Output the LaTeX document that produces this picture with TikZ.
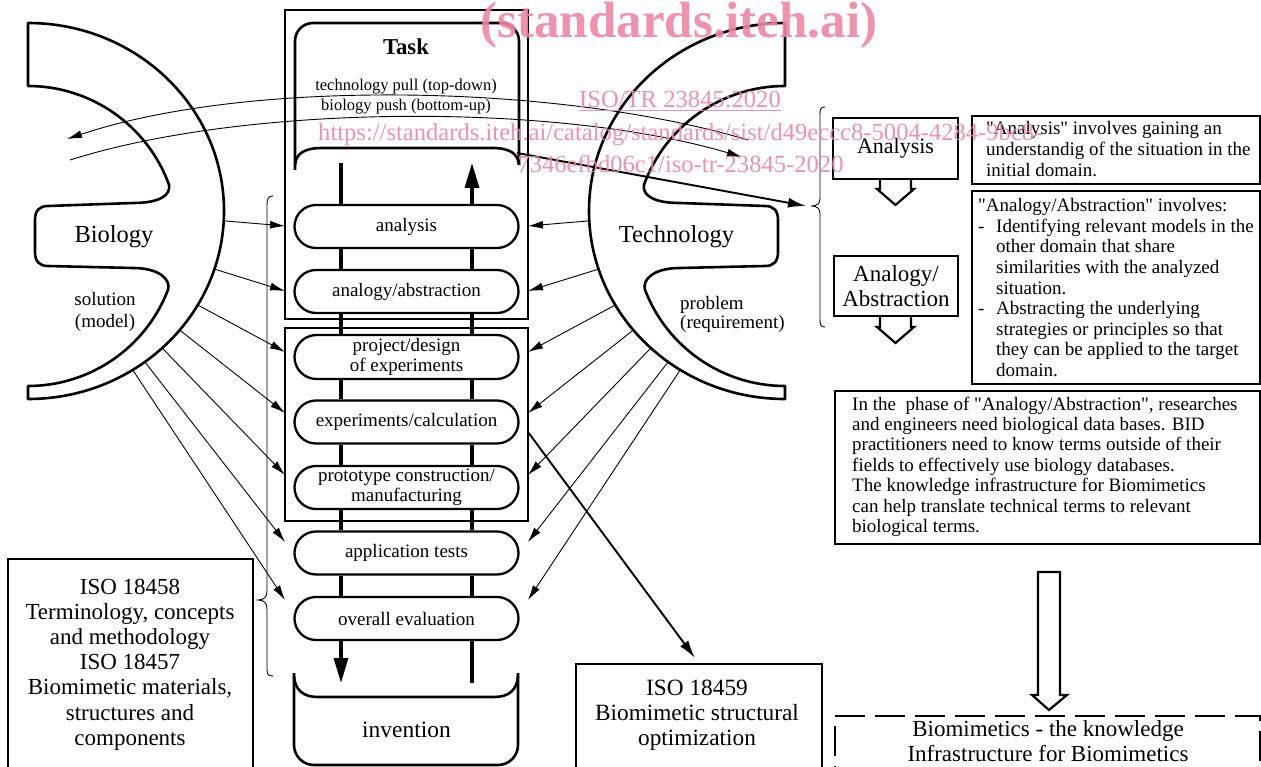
\documentclass[tikz,border=0pt]{standalone}
\usepackage{fontspec}
\setmainfont{Liberation Serif}[Ligatures=TeXOff]
\usetikzlibrary{arrows.meta,shapes.misc}
\definecolor{wm}{RGB}{236,134,166}
\newcommand\myfs[2]{\fontsize{#1pt}{#2pt}\selectfont}
\newcommand\domainpath{(28,23) arc[start angle=-90,end angle=90,x radius=196,y radius=188] -- (28,386) arc[start angle=90,end angle=21,radius=150] .. controls (171,280) and (160,268) .. (133,268) -- (48,266) .. controls (39,266) and (35,261) .. (35,252) -- (35,220) .. controls (35,211) and (39,206) .. (48,206) -- (133,203) .. controls (160,203) and (171,195) .. (169,184.7) arc[start angle=-20,end angle=-90,radius=150] -- cycle}
\begin{document}
\begin{tikzpicture}[x=1pt,y=-1pt,
  domline/.style={line width=2.6pt, line join=round},
  boxline/.style={draw, line width=2.4pt, inner sep=0pt},
  pill/.style={draw, line width=2.3pt, rounded rectangle, minimum width=224pt, minimum height=43pt, inner sep=0pt, align=center, font=\myfs{19}{19.5}},
  flowbar/.style={line width=3.2pt},
  barhead/.style={-{Triangle[length=25pt,width=14pt]}},
  thinarrow/.style={line width=0.9pt, -{Latex[length=15pt,width=8pt]}},
  boldarrow/.style={line width=1.9pt, -{Latex[length=18pt,width=10pt]}},
  txt/.style={inner sep=0pt, anchor=base},
  ltxt/.style={inner sep=0pt, anchor=base west, align=left},
  wmark/.style={text=wm, inner sep=0pt, anchor=base, text opacity=0.9},
  blockarrow/.style={line width=2.2pt, line join=miter},
]
\useasboundingbox (0,0) rectangle (1261,767);
\clip (0,0) rectangle (1261,767);

% ---------- domain shapes ----------
\draw[domline] \domainpath;
\foreach \i/\a in {1/3,2/18,3/30,4/39.3,5/46.8,6/53.4,7/57.7} {
  \path (28,211) ++(\a:196 and 188) coordinate (bs\i);
}
\begin{scope}[xshift=813pt,xscale=-1]
  \draw[domline] \domainpath;
  \foreach \i/\a in {1/3,2/18,3/30,4/39.3,5/46.8,6/53.4,7/57.7} {
    \path (28,211) ++(\a:196 and 188) coordinate (ts\i);
  }
\end{scope}
\node[txt, font=\myfs{24.5}{26}] (bio) at (114,243) {Biology};
\node[txt, align=center, font=\myfs{19}{21}] (sol) at (105,327) {solution\\(model)};
\node[txt, font=\myfs{24.5}{26}] (tech) at (676.5,243) {Technology};
\node[ltxt, font=\myfs{19}{20}] (prob) at (680,329) {problem\\(requirement)};

% ---------- task column ----------
\node[boxline, minimum width=243pt, minimum height=309pt] (taskbox) at (406.5,164.5) {};
\node[boxline, minimum width=243pt, minimum height=193pt] (lowbox) at (406.5,424.5) {};
\draw[domline, rounded corners=18pt] (295,170) -- (295,23) -- (519,23) -- (519,165);
\draw[domline] (295,165) .. controls (296,153) and (305,148) .. (322,148) -- (492,148) .. controls (509,148) and (518,153) .. (519,165);
\node[txt, font=\bfseries\myfs{22.7}{24}] (task) at (406,55) {Task};
\node[txt, font=\myfs{16.5}{18}] (pull) at (406,90.7) {technology pull (top-down)};
\node[txt, font=\myfs{16.5}{18}] (push) at (406,110.7) {biology push (bottom-up)};

\node[pill] (p1) at (406.5,226.5) {analysis};
\node[pill] (p2) at (406.5,291.5) {analogy/abstraction};
\node[pill, minimum height=44pt] (p3) at (406.5,357) {project/design\\of experiments};
\node[pill] (p4) at (406.5,422) {experiments/calculation};
\node[pill] (p5) at (406.5,487.5) {prototype construction/\\manufacturing};
\node[pill] (p6) at (406.5,553) {application tests};
\node[pill] (p7) at (406.5,618.5) {overall evaluation};

\coordinate (ltop) at (341,163);
\coordinate (rtop) at (472,163);
\coordinate (lbot) at (341,683);
\coordinate (rbot) at (472,683);
\draw[flowbar] (ltop) -- (ltop |- p1.north);
\draw[flowbar, barhead] (rtop |- p1.north) -- (rtop);
\foreach \a/\b in {p1/p2,p2/p3,p3/p4,p4/p5,p5/p6,p6/p7} {
  \draw[flowbar] (ltop |- \a.south) -- (ltop |- \b.north);
  \draw[flowbar] (rtop |- \a.south) -- (rtop |- \b.north);
}
\draw[flowbar, barhead] (lbot |- p7.south) -- (lbot);
\draw[flowbar] (rbot |- p7.south) -- (rbot);

\draw[domline, rounded corners=20pt] (294,673) -- (294,765) -- (518,765) -- (518,673);
\draw[domline] (294,676) .. controls (295,690) and (303,697) .. (318,697) -- (494,697) .. controls (509,697) and (517,690) .. (518,676);
\node[txt, font=\myfs{23.5}{25}] (inv) at (406.5,737) {invention};

% ---------- arrows from domains ----------
\foreach \i/\y in {1/226,2/291,3/352,4/413,5/475,6/542,7/600} {
  \coordinate (bt\i) at (285,\y);
  \coordinate (tt\i) at (528,\y);
}
\foreach \i in {1,...,7} {
  \draw[thinarrow] (bs\i) -- (bt\i);
  \draw[thinarrow] (ts\i) -- (tt\i);
}

% ---------- pull / push curves ----------
\coordinate (pullA) at (748,140);
\coordinate (pullB) at (67,139);
\coordinate (pushA) at (70,160);
\coordinate (pushB) at (742,157);
\draw[thinarrow] (pullA) .. controls (560,84) and (250,78) .. (pullB);
\draw[thinarrow] (pushA) .. controls (250,103) and (560,103) .. (pushB);

% ---------- braces ----------
\draw[line width=0.9pt] (273,196) .. controls (268,196) and (267,199) .. (267,205) -- (267,591) .. controls (267,597) and (264,600) .. (258,600) .. controls (264,600) and (267,603) .. (267,609) -- (267,669) .. controls (267,674) and (268,676) .. (273,676);
\draw[line width=0.9pt] (825,107) .. controls (821,107) and (820,109) .. (820,114) -- (820,198) .. controls (820,203) and (818,206) .. (811,206) .. controls (818,206) and (820,209) .. (820,214) -- (820,320) .. controls (820,325) and (821,327) .. (825,327);
\coordinate (taskout) at (517,153);
\coordinate (bracetip) at (806,206);
\draw[boldarrow] (taskout) -- (bracetip);

% ---------- ISO boxes ----------
\node[boxline, anchor=north west, minimum width=245pt, minimum height=240pt] (iso58box) at (7,558) {};
\node[txt, align=center, font=\myfs{23}{25.2}] (iso58) at (130,745.2) {ISO 18458\\Terminology, concepts\\and methodology\\ISO 18457\\Biomimetic materials,\\structures and\\components};
\node[boxline, anchor=north west, minimum width=246pt, minimum height=140pt] (iso59box) at (575,663) {};
\node[txt, align=center, font=\myfs{23.3}{25}] (iso59) at (697,745) {ISO 18459\\Biomimetic structural\\optimization};
\coordinate (calcout) at (528,432);
\coordinate (isotip) at (695,658);
\draw[boldarrow] (calcout) -- (isotip);

% ---------- right column ----------
\node[boxline, minimum width=125pt, minimum height=61pt, font=\myfs{22}{25}] (anabox) at (895.5,148.5) {Analysis};
\node[boxline, minimum width=124pt, minimum height=60pt, align=center, font=\myfs{23}{25}] (absbox) at (896,286) {Analogy/\\Abstraction};
\draw[blockarrow] (880,179) -- (880,189) -- (877,189) -- (895.5,205) -- (914,189) -- (911,189) -- (911,179);
\draw[blockarrow] (880,316) -- (880,327) -- (877,327) -- (895.5,343) -- (914,327) -- (911,327) -- (911,316);

\node[boxline, anchor=north west, minimum width=288pt, minimum height=68pt] (desc1) at (971,115) {};
\node[ltxt, font=\myfs{19}{20.6}] (desc1t) at (986,176.2) {"Analysis" involves gaining an\\understandig of the situation in the\\initial domain.};
\node[boxline, anchor=north west, minimum width=288pt, minimum height=193pt] (desc2) at (971,190) {};
\node[ltxt, font=\myfs{19}{20.6}] (desc2t) at (978,376.5) {"Analogy/Abstraction" involves:\\
\makebox[18pt][l]{-}Identifying relevant models in the\\
\hspace*{18pt}other domain that share\\
\hspace*{18pt}similarities with the analyzed\\
\hspace*{18pt}situation.\\
\makebox[18pt][l]{-}Abstracting the underlying\\
\hspace*{18pt}strategies or principles so that\\
\hspace*{18pt}they can be applied to the target\\
\hspace*{18pt}domain.};
\node[boxline, anchor=north west, minimum width=425pt, minimum height=153pt] (desc3) at (834,390) {};
\node[ltxt, font=\myfs{19}{20.45}] (desc3t) at (852,532.7) {In the~ phase of "Analogy/Abstraction", researches\\and engineers need biological data bases. BID\\practitioners need to know terms outside of their\\fields to effectively use biology databases.\\The knowledge infrastructure for Biomimetics\\can help translate technical terms to relevant\\biological terms.};
\draw[blockarrow] (1038,572) -- (1038,695) -- (1032,695) -- (1049,710) -- (1067,695) -- (1060,695) -- (1060,572) -- cycle;
\node[draw, line width=2.2pt, dash pattern=on 30pt off 10pt, anchor=north west, minimum width=425pt, minimum height=100pt, inner sep=0pt] (kibox) at (834,715) {};
\node[txt, align=center, font=\myfs{23}{25}] (kib) at (1048,761) {Biomimetics - the knowledge\\Infrastructure for Biomimetics};

% ---------- watermark ----------
\node[wmark, font=\bfseries\myfs{51}{52}] (w1) at (679,38) {(standards.iteh.ai)};
\node[wmark, font=\myfs{24.6}{25}] (w2) at (680,108) {\underline{ISO/TR 23845:2020}};
\node[wmark, anchor=base west, font=\myfs{24.6}{25}] (w3) at (318,141) {https://standards.iteh.ai/catalog/standards/sist/d49eccc8-5004-4284-9bc8-};
\node[wmark, font=\myfs{24.6}{25}] (w4) at (680.5,173) {7346efbd06c1/iso-tr-23845-2020};
\end{tikzpicture}
\end{document}
